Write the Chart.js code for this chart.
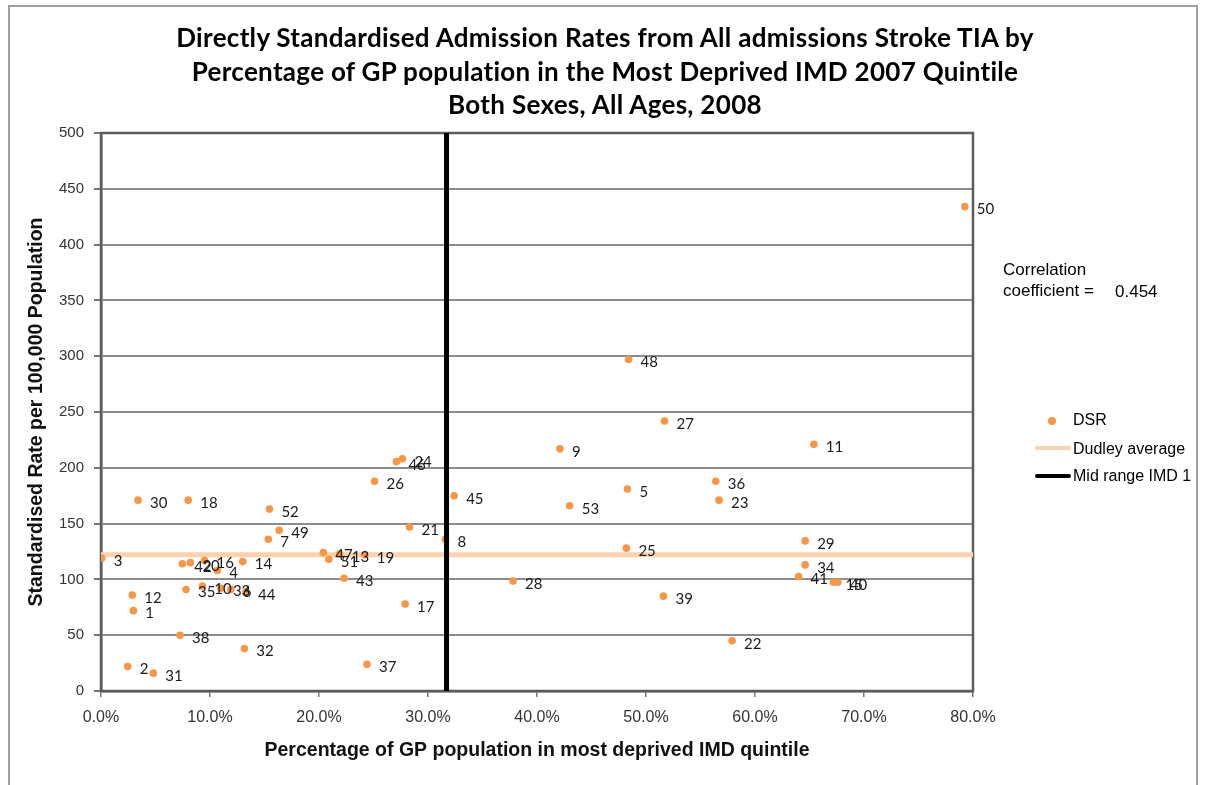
<!DOCTYPE html>
<html>
<head>
<meta charset="utf-8">
<title>DSR Stroke TIA by deprivation</title>
<script src="https://cdn.jsdelivr.net/npm/chart.js@4"></script>
<style>
    html, body { margin: 0; padding: 0; background: #fff; }
    #wrap { position: relative; width: 1206px; height: 785px; overflow: hidden; }
    #frame { position: absolute; left: 8px; top: 5px; width: 1190px; height: 820px; border: 2px solid #a0a0a0; box-sizing: border-box; }
    #title { position: absolute; left: 0; top: 21px; width: 1210px; text-align: center; font: bold 26px Lato; letter-spacing: 0.3px; line-height: 33.5px; color: #000; }
    canvas { position: absolute; left: 0; top: 0; }
    .note { position: absolute; font: 17px "Liberation Sans"; color: #000; white-space: nowrap; }
    .leg { position: absolute; font: 16px "Liberation Sans"; color: #000; white-space: nowrap; }
    .legLine { position: absolute; height: 4px; border-radius: 2px; }
    .legDot { position: absolute; width: 8px; height: 8px; border-radius: 50%; background: #F79646; }
</style>
</head>
<body>
<div id="wrap">
    <div id="frame"></div>
    <canvas id="dsrChart" width="1206" height="785"></canvas>
    <div id="title">Directly Standardised Admission Rates from All admissions Stroke TIA by<br>Percentage of GP population in the Most Deprived IMD 2007 Quintile<br>Both Sexes, All Ages, 2008</div>

    <div class="note" style="left:1003px; top:260px;">Correlation</div>
    <div class="note" style="left:1003px; top:281px;">coefficient =</div>
    <div class="note" style="left:1115px; top:282px;">0.454</div>

    <div class="legDot" style="left:1048px; top:417px;"></div>
    <div class="leg" style="left:1073px; top:411px;">DSR</div>
    <div class="legLine" style="left:1035px; top:446px; width:36px; background:#FAD2AE;"></div>
    <div class="leg" style="left:1073px; top:440px;">Dudley average</div>
    <div class="legLine" style="left:1035px; top:474px; width:36px; background:#000;"></div>
    <div class="leg" style="left:1073px; top:467px;">Mid range IMD 1</div>
</div>

<script>
// GP practice numbers, % of practice population in most deprived quintile, DSR per 100,000
const practiceIds = [
    1, 2, 3, 4, 5, 6, 7, 8, 9, 10,
    11, 12, 13, 14, 15, 16, 17, 18, 19, 20,
    21, 22, 23, 24, 25, 26, 27, 28, 29, 30,
    31, 32, 33, 34, 35, 36, 37, 38, 39, 40,
    41, 42, 43, 44, 45, 46, 47, 48, 49, 50,
    51, 52, 53
];
const pctDeprived = [
    2.97, 2.45, 0.06, 10.67, 48.3, 11.9, 15.35, 31.6, 42.1, 9.3,
    65.4, 2.87, 21.9, 13.0, 67.2, 9.5, 27.9, 8.0, 24.2, 8.2,
    28.3, 57.9, 56.7, 27.65, 48.2, 25.1, 51.7, 37.8, 64.6, 3.4,
    4.8, 13.15, 11.0, 64.6, 7.8, 56.4, 24.4, 7.25, 51.6, 67.6,
    64.0, 7.46, 22.3, 13.3, 32.4, 27.1, 20.4, 48.4, 16.35, 79.25,
    20.9, 15.45, 43.0
];
const dsrValues = [
    72, 22, 119, 108, 181, 91, 136, 136, 217, 94,
    221, 86, 123, 116, 97.5, 117, 78, 171, 122, 115,
    147, 45, 171, 208, 128, 188, 242, 98.5, 134.5, 171,
    16, 38, 92, 113, 91, 188, 24, 50, 85, 97.5,
    102.5, 114, 101, 89, 175, 205.5, 124, 297, 144, 434,
    118, 163, 166
];
const dudleyAverage = 122;
const midRangeIMD1 = 31.7;
const xTicks = [0, 10, 20, 30, 40, 50, 60, 70, 80];
const yTicks = [0, 50, 100, 150, 200, 250, 300, 350, 400, 450, 500];

const orange = '#F79646';

// Writes each practice number to the right of its point
const pointLabels = {
    id: 'pointLabels',
    afterDatasetsDraw(chart) {
        const meta = chart.getDatasetMeta(1);
        const ctx = chart.ctx;
        ctx.save();
        ctx.font = '15px Lato';
        ctx.fillStyle = '#1a1a1a';
        ctx.textBaseline = 'middle';
        ctx.textAlign = 'left';
        meta.data.forEach((pt, i) => {
            ctx.fillText(String(practiceIds[i]), pt.x + 12, pt.y + 3);
        });
        ctx.restore();
    }
};

// Box around the plot area
const plotFrame = {
    id: 'plotFrame',
    beforeDatasetsDraw(chart) {
        const a = chart.chartArea;
        const ctx = chart.ctx;
        ctx.save();
        ctx.strokeStyle = '#5c5c5c';
        ctx.lineWidth = 2.5;
        ctx.strokeRect(a.left, a.top, a.right - a.left, a.bottom - a.top);
        ctx.restore();
    }
};

const ctx = document.getElementById('dsrChart');

new Chart(ctx, {
    type: 'scatter',
    data: {
        datasets: [
            {
                label: 'Dudley average',
                data: [{ x: xTicks[0], y: dudleyAverage }, { x: xTicks[xTicks.length - 1], y: dudleyAverage }],
                showLine: true,
                borderColor: '#FAD2AE',
                borderWidth: 5,
                pointRadius: 0,
                order: 3
            },
            {
                label: 'DSR',
                data: pctDeprived.map((x, i) => ({ x: x, y: dsrValues[i] })),
                backgroundColor: orange,
                borderColor: orange,
                pointRadius: 3.8,
                pointBorderWidth: 0,
                order: 2
            },
            {
                label: 'Mid range IMD 1',
                data: [{ x: midRangeIMD1, y: yTicks[0] }, { x: midRangeIMD1, y: yTicks[yTicks.length - 1] }],
                showLine: true,
                borderColor: '#000',
                borderWidth: 5,
                pointRadius: 0,
                order: 1
            }
        ]
    },
    options: {
        responsive: false,
        animation: false,
        layout: {
            padding: { left: 25, right: 233, top: 133, bottom: 19 }
        },
        plugins: {
            legend: { display: false },
            tooltip: { enabled: false }
        },
        scales: {
            x: {
                type: 'linear',
                min: 0,
                max: 80,
                afterBuildTicks: (scale) => { scale.ticks = xTicks.map(v => ({ value: v })); },
                afterFit: (scale) => { scale.height = 75; },
                ticks: {
                    color: '#333',
                    padding: 11,
                    font: { family: 'Liberation Sans', size: 16 },
                    callback: (v) => v.toFixed(1) + '%'
                },
                grid: {
                    drawOnChartArea: false,
                    tickLength: 6,
                    tickColor: '#777',
                    lineWidth: 1.5
                },
                border: { color: '#5c5c5c', width: 2.5 },
                title: {
                    display: true,
                    text: 'Percentage of GP population in most deprived IMD quintile',
                    color: '#111',
                    font: { family: 'Liberation Sans', size: 19.5, weight: 'bold' },
                    padding: { top: 2, bottom: 4 }
                }
            },
            y: {
                type: 'linear',
                min: 0,
                max: 500,
                afterBuildTicks: (scale) => { scale.ticks = yTicks.map(v => ({ value: v })); },
                afterFit: (scale) => { scale.width = 76; },
                ticks: {
                    color: '#333',
                    padding: 10,
                    font: { family: 'Liberation Sans', size: 15 }
                },
                grid: {
                    color: '#8c8c8c',
                    lineWidth: 2,
                    tickLength: 7,
                    tickColor: '#777'
                },
                border: { color: '#5c5c5c', width: 2.5 },
                title: {
                    display: true,
                    text: 'Standardised Rate per 100,000 Population',
                    color: '#111',
                    font: { family: 'Liberation Sans', size: 19.5, weight: 'bold' },
                    padding: { top: 0, bottom: 4 }
                }
            }
        }
    },
    plugins: [plotFrame, pointLabels]
});
</script>
</body>
</html>
